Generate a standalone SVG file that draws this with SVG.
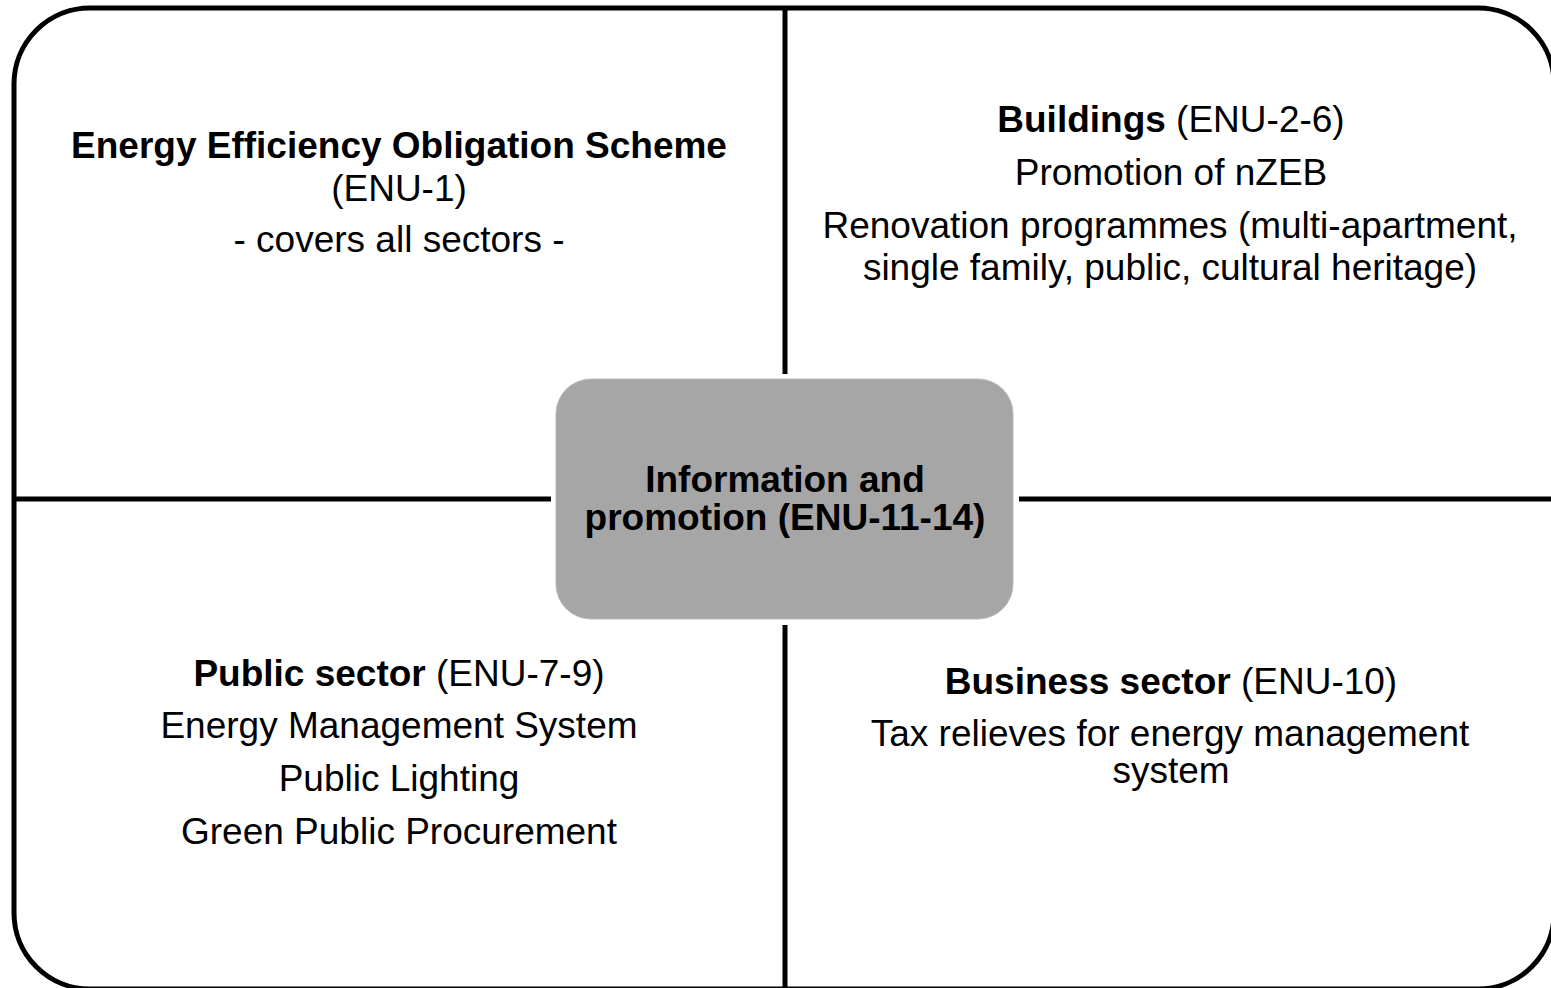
<svg xmlns="http://www.w3.org/2000/svg" width="1551" height="988" viewBox="0 0 1551 988">
<style>
  text { font-family: "Liberation Sans", Arial, sans-serif; font-size: 37px; fill: #000; text-anchor: middle; }
  .b { font-weight: bold; }
  .div { stroke: #000; stroke-width: 5; fill: none; }
</style>
<rect width="1551" height="988" fill="#fff"/>
<g id="frame">
  <rect x="14" y="8" width="1540" height="981" rx="76" ry="76" fill="none" stroke="#000" stroke-width="5"/>
</g>
<g id="connectors">
  <line class="div" x1="785" y1="8" x2="785" y2="374"/>
  <line class="div" x1="785" y1="625" x2="785" y2="989"/>
  <line class="div" x1="14" y1="499" x2="551" y2="499"/>
  <line class="div" x1="1019" y1="499" x2="1554" y2="499"/>
</g>
<g id="eeos">
  <text x="399" y="158" class="b">Energy Efficiency Obligation Scheme</text>
  <text x="399" y="201">(ENU-1)</text>
  <text x="399" y="252">- covers all sectors -</text>
</g>
<g id="buildings">
  <text x="1171" y="132"><tspan class="b">Buildings</tspan> (ENU-2-6)</text>
  <text x="1171" y="185">Promotion of nZEB</text>
  <text x="1170" y="238">Renovation programmes (multi-apartment,</text>
  <text x="1170" y="280">single family, public, cultural heritage)</text>
</g>
<g id="public">
  <text x="399" y="686"><tspan class="b">Public sector</tspan> (ENU-7-9)</text>
  <text x="399" y="738">Energy Management System</text>
  <text x="399" y="791">Public Lighting</text>
  <text x="399" y="844">Green Public Procurement</text>
</g>
<g id="business">
  <text x="1171" y="694"><tspan class="b">Business sector</tspan> (ENU-10)</text>
  <text x="1170" y="746">Tax relieves for energy management</text>
  <text x="1171" y="783">system</text>
</g>
<g id="info">
  <rect x="556" y="379" width="457" height="240" rx="35" ry="35" fill="#a6a6a6" stroke="#b8b8b8" stroke-width="1"/>
  <text x="785" y="492" class="b">Information and</text>
  <text x="785" y="530" class="b">promotion (ENU-11-14)</text>
</g>
</svg>
